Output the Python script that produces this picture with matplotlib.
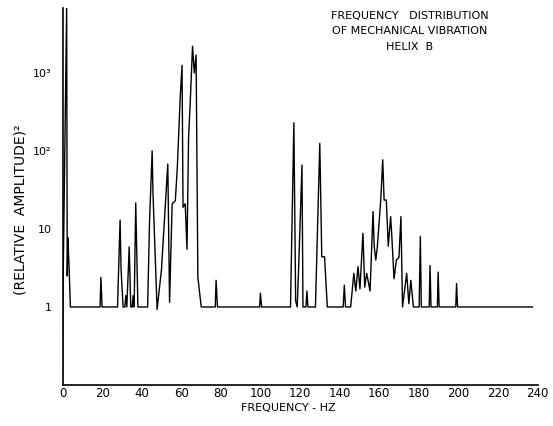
import matplotlib
matplotlib.use('Agg')
import matplotlib.pyplot as plt

# spectrum trace: frequency (Hz) and relative amplitude squared
freq = [0, 0.2, 2.1, 2.4, 2.7, 3.2, 4.0,
        19.0, 19.4, 20.0,
        27.8, 28.5, 29.1, 29.6, 30.6, 31.5, 32.0, 32.5, 33.7, 34.5,
        35.2, 35.7, 36.2, 37.0, 38.1,
        43.0, 44.0, 45.3, 45.7, 47.8, 50.0, 53.2, 54.1, 55.4, 57.0, 58.0,
        59.5, 60.4, 60.9, 62.0, 62.9, 63.7, 64.5, 65.7, 66.6, 67.5, 68.4, 70.1,
        77.2, 77.6, 78.3,
        99.6, 100.0, 100.6,
        115.2, 116.9, 117.8, 118.6, 119.5, 121.0, 121.5, 123.0, 123.5, 124.0,
        127.8, 130.0, 131.0, 132.4, 133.8,
        141.8, 142.4, 143.0,
        145.6, 147.2, 148.2, 149.3, 150.3, 151.8, 152.7, 153.7, 155.4, 156.9,
        157.5, 158.3, 159.1, 160.8, 161.8, 162.5, 163.6, 164.6, 165.8, 166.4,
        167.5, 168.7, 170.0, 171.0, 171.8, 173.9, 175.0, 176.0, 177.3,
        180.2, 180.8, 181.3, 185.3, 185.7, 186.2, 189.4, 189.8, 190.3,
        198.7, 199.1, 199.6, 237.5]
amp = [0.1, 1.3, 6800, 2.5, 7.7, 4.0, 1.0,
       1.0, 2.4, 1.0,
       1.0, 4.0, 13, 3.0, 1.0, 1.0, 1.4, 1.0, 5.9, 1.0,
       1.0, 1.4, 1.0, 21.6, 1.0,
       1.0, 13, 100, 30, 0.93, 3.0, 68, 1.15, 21, 23, 60,
       500, 1250, 19, 21, 5.5, 150, 400, 2200, 1000, 1700, 2.4, 1.0,
       1.0, 2.2, 1.0,
       1.0, 1.5, 1.0,
       1.0, 230, 1.2, 1.0, 4.4, 66, 1.0, 1.0, 1.6, 1.0,
       1.0, 125, 4.4, 4.4, 1.0,
       1.0, 1.9, 1.0,
       1.0, 2.7, 1.6, 3.3, 1.7, 8.8, 1.8, 2.7, 1.6, 16.7,
       6.0, 4.0, 6.0, 23.5, 77, 23.5, 23.5, 6.0, 14.4, 8.0,
       2.3, 4.0, 4.3, 14.4, 1.0, 2.7, 1.1, 2.2, 1.0,
       1.0, 8.0, 1.0, 1.0, 3.4, 1.0, 1.0, 2.8, 1.0,
       1.0, 2.0, 1.0, 1.0]

x_ticks = list(range(0, 241, 20))
y_ticks = [1, 10, 100, 1000]
y_tick_labels = ['1', '10', '10²', '10³']
title_lines = ['FREQUENCY   DISTRIBUTION', 'OF MECHANICAL VIBRATION', 'HELIX  B']

plt.rcParams['font.family'] = ['DejaVu Sans']

fig = plt.figure(figsize=(5.53, 4.26), dpi=100)
ax = fig.add_axes([62.5 / 553, 41 / 426, 475 / 553, 377 / 426])

ax.plot(freq, amp, color='black', lw=1.0)

ax.set_yscale('log')
ax.set_xlim(0, 240)
ax.set_ylim(0.1, 6800)

ax.set_xticks(x_ticks)
ax.set_xticklabels([str(t) for t in x_ticks])
ax.set_yticks(y_ticks)
ax.set_yticklabels(y_tick_labels)
ax.yaxis.set_minor_locator(matplotlib.ticker.NullLocator())
ax.tick_params(axis='both', length=0)
ax.tick_params(axis='x', pad=1.5, labelsize=8.5)
ax.tick_params(axis='y', pad=8, labelsize=8)

for side in ['top', 'right']:
    ax.spines[side].set_visible(False)
for side in ['left', 'bottom']:
    ax.spines[side].set_linewidth(1.2)

fig.text(288 / 553, 1 - 408 / 426, 'FREQUENCY - HZ', ha='center', va='center', fontsize=8)
fig.text(21 / 553, 1 - 210 / 426, '(RELATIVE  AMPLITUDE)²', rotation=90,
         ha='center', va='center', fontsize=10)

for i, line in enumerate(title_lines):
    fig.text(410 / 553, 1 - (16 + 15.5 * i) / 426, line, ha='center', va='center', fontsize=8)

fig.savefig('out.png', dpi=100)
